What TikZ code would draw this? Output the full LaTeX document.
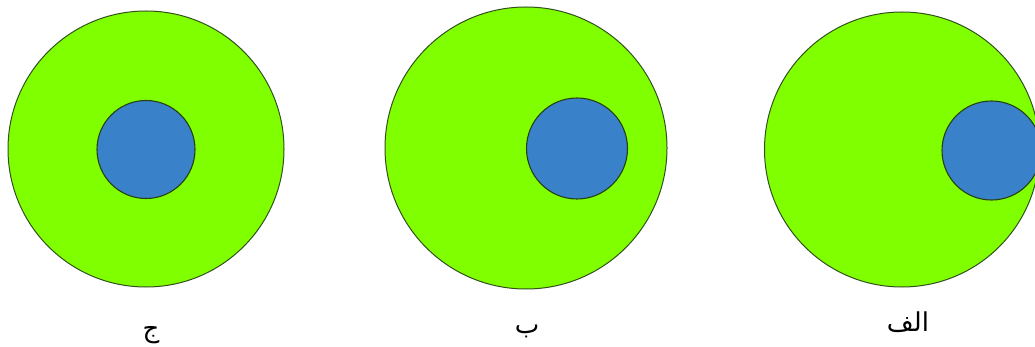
\documentclass[tikz,border=0pt]{standalone}
\usepackage{fontspec}
\newfontfamily\arabicfont[Script=Arabic]{DejaVu Sans}
\TeXXeTstate=1
\definecolor{cellgreen}{RGB}{127,255,0}
\definecolor{nucblue}{RGB}{57,130,201}
\definecolor{rimline}{RGB}{50,80,30}
\begin{document}
\begin{tikzpicture}[x=1pt,y=-1pt,
  cell/.style={circle,fill=cellgreen,draw=rimline,line width=1pt,inner sep=0pt},
  nucleus/.style={circle,fill=nucblue,draw=rimline!80!black,line width=1.1pt,inner sep=0pt},
  lbl/.style={font=\arabicfont\fontsize{26}{30}\selectfont,inner sep=0pt,anchor=base}]
\useasboundingbox (0,0) rectangle (1035,347);
\clip (0,0) rectangle (1035,347);
\node[cell,minimum size=276pt] (c1) at (146,149) {};
\node[nucleus,minimum size=98pt] (n1) at (146,149.5) {};
\node[cell,minimum size=282pt] (c2) at (526,148) {};
\node[nucleus,minimum size=101pt] (n2) at (577,148.5) {};
\node[cell,minimum size=275pt] (c3) at (902,149.5) {};
\node[nucleus,minimum size=99pt] (n3) at (991.5,150.5) {};
\node[lbl] (l1) at (151,337) {\beginR ج\endR};
\node[lbl] (l2) at (527,333) {\beginR ب\endR};
\node[lbl] (l3) at (908,331) {\beginR الف\endR};
\end{tikzpicture}
\end{document}
